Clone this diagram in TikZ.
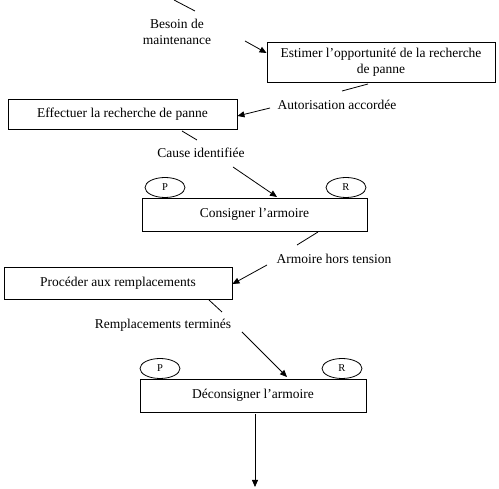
\documentclass[tikz,border=0pt]{standalone}
\usepackage{fontspec}
\setmainfont{Liberation Serif}
\usetikzlibrary{arrows.meta,shapes.geometric}
\tikzset{
  etape/.style={draw, line width=0.9pt, inner sep=0pt, align=center,
    font=\fontsize{13.5}{15.5}\selectfont},
  etiq/.style={inner sep=0pt, align=center, font=\fontsize{13.5}{15.5}\selectfont},
  ress/.style={ellipse, draw, line width=0.8pt, minimum width=40pt, minimum height=20pt,
    inner sep=0pt, font=\fontsize{10.5}{10.5}\selectfont},
  fleche/.style={-{Triangle[length=7pt,width=6pt]}, line width=0.8pt},
  trait/.style={line width=0.8pt}
}
\begin{document}
\begin{tikzpicture}[x=1pt,y=-1pt]
    \useasboundingbox (0,0) rectangle (499,489);
    \node[etape, minimum width=228pt, minimum height=40pt] (estimer) at (381,62)
        {Estimer l'opportunité de la recherche\\de panne};
    \node[etape, minimum width=229pt, minimum height=30pt] (effectuer) at (122.5,114)
        {Effectuer la recherche de panne};
    \node[etape, minimum width=225pt, minimum height=33pt] (consigner) at (254.5,214.5)
        {Consigner l'armoire};
    \node[etape, minimum width=228pt, minimum height=32pt] (proceder) at (118,283)
        {Procéder aux remplacements};
    \node[etape, minimum width=226pt, minimum height=33pt] (deconsigner) at (253,395.5)
        {Déconsigner l'armoire};
    \node[ress] (p1) at (165,187.5) {P};
    \node[ress] (r1) at (346,187.5) {R};
    \node[ress] (p2) at (160,368.5) {P};
    \node[ress] (r2) at (342,368.5) {R};
    \node[etiq] (besoin) at (177,32) {Besoin de\\maintenance};
    \node[etiq] (autorisation) at (337,105) {Autorisation accordée};
    \node[etiq] (cause) at (201,153) {Cause identifiée};
    \node[etiq] (horstension) at (334,259) {Armoire hors tension};
    \node[etiq] (termines) at (163,325) {Remplacements terminés};
    \coordinate (entree) at (174,0);
    \coordinate (b1) at (195,11);
    \coordinate (b2) at (245,41);
    \coordinate (a1) at (368,84);
    \coordinate (a2) at (342,91);
    \coordinate (a3) at (270,108);
    \coordinate (c1) at (182,131);
    \coordinate (c2) at (197,140);
    \coordinate (c3) at (233,167);
    \coordinate (h1) at (318,232);
    \coordinate (h2) at (297,245);
    \coordinate (h3) at (267,265);
    \coordinate (t1) at (209,300);
    \coordinate (t2) at (222,312);
    \coordinate (t3) at (242,332);
    \coordinate (sortie) at (255,487);
    \draw[trait] (entree) -- (b1);
    \draw[fleche] (b2) -- (estimer.west |- 0,53);
    \draw[trait] (a1) -- (a2);
    \draw[fleche] (a3) -- (effectuer.east |- 0,116);
    \draw[trait] (c1) -- (c2);
    \draw[fleche] (c3) -- (277,197);
    \draw[trait] (h1) -- (h2);
    \draw[fleche] (h3) -- (proceder.east |- 0,284);
    \draw[trait] (t1) -- (t2);
    \draw[fleche] (t3) -- (287,377);
    \draw[fleche] (deconsigner.south -| sortie) ++(0,2) -- (sortie);
\end{tikzpicture}
\end{document}
